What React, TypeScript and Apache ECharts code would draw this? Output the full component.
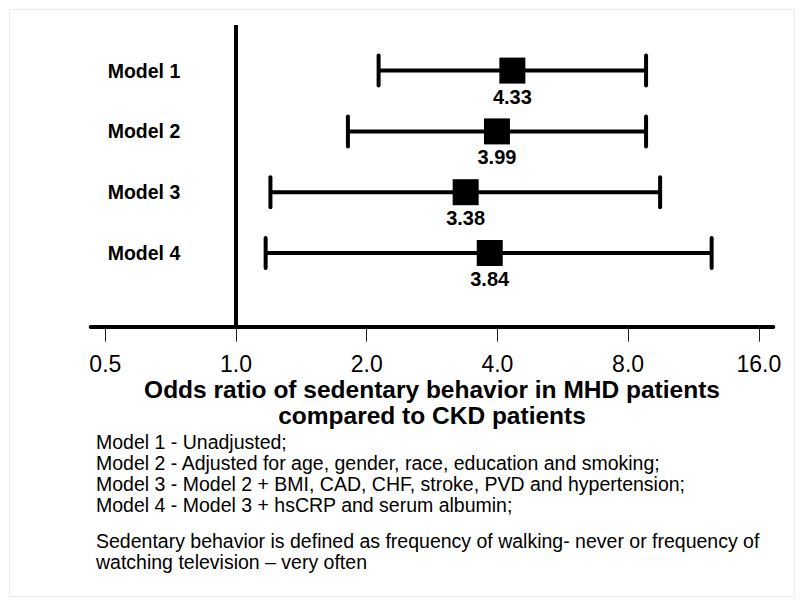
import React, { useEffect, useRef } from "react";
import * as echarts from "echarts";

const models = ["Model 1", "Model 2", "Model 3", "Model 4"];
const oddsRatios = [4.33, 3.99, 3.38, 3.84];
const ciLower = [2.13, 1.81, 1.2, 1.17];
const ciUpper = [8.8, 8.8, 9.48, 12.46];
const xTicks = [0.5, 1, 2, 4, 8, 16];
const referenceValue = 1;
const axisTitle = "Odds ratio of sedentary behavior in MHD patients\ncompared to CKD patients";
const modelNotes = [
  "Model 1 - Unadjusted;",
  "Model 2 - Adjusted for age, gender, race, education and smoking;",
  "Model 3 - Model 2 + BMI, CAD, CHF, stroke, PVD and hypertension;",
  "Model 4 - Model 3 + hsCRP and serum albumin;",
];
const definitionNote = [
  "Sedentary behavior is defined as frequency of walking- never or frequency of",
  "watching television \u2013 very often",
];

const FONT = "'Liberation Sans', Arial, Helvetica, sans-serif";

export default function App() {
  const ref = useRef<HTMLDivElement>(null);

  useEffect(() => {
    if (!ref.current) return;
    const chart = echarts.init(ref.current, null, { renderer: "svg" });
    const rows = models.map((_, i) => i + 1);
    const ciData = rows.map((r, i) => [ciLower[i], ciUpper[i], r]);
    const pointData = rows.map((r, i) => [oddsRatios[i], r]);

    const option: any = {
      animation: false,
      backgroundColor: "#fff",
      textStyle: { fontFamily: FONT },
      grid: { left: 90.7, right: 26.7, top: 25, bottom: 277.3, containLabel: false },
      xAxis: {
        type: "log",
        logBase: 2,
        min: 0.4626,
        max: 17.28,
        splitLine: { show: false },
        axisLine: { show: true, lineStyle: { color: "#000", width: 4 } },
        axisTick: { show: true, customValues: xTicks, length: 15, lineStyle: { color: "#222", width: 1 } },
        axisLabel: {
          show: true,
          customValues: xTicks,
          formatter: (v: number) => Number(v).toFixed(1),
          fontSize: 23,
          color: "#000",
          margin: 26,
          fontFamily: FONT,
        },
        name: axisTitle,
        nameLocation: "middle",
        nameGap: 45,
        nameTextStyle: { fontSize: 24.5, fontWeight: "bold", color: "#000", lineHeight: 26, fontFamily: FONT },
      },
      yAxis: {
        type: "value",
        inverse: true,
        min: 0.25,
        max: 5.212,
        splitLine: { show: false },
        axisLine: { show: false },
        axisTick: { show: false },
        axisLabel: {
          show: true,
          inside: true,
          customValues: rows,
          margin: 17,
          formatter: (v: number) => models[Math.round(v) - 1] ?? "",
          fontSize: 19.5,
          fontWeight: "bold",
          color: "#000",
          fontFamily: FONT,
        },
      },
      series: [
        {
          type: "custom",
          data: ciData,
          encode: { x: [0, 1], y: 2 },
          silent: true,
          z: 2,
          renderItem: (params: any, api: any) => {
            const y = api.value(2);
            const p1 = api.coord([api.value(0), y]);
            const p2 = api.coord([api.value(1), y]);
            const cap = 15;
            const capStyle = { stroke: "#000", lineWidth: 4, lineCap: "round" };
            return {
              type: "group",
              children: [
                { type: "line", shape: { x1: p1[0], y1: p1[1], x2: p2[0], y2: p2[1] }, style: { stroke: "#000", lineWidth: 4 } },
                { type: "line", shape: { x1: p1[0], y1: p1[1] - cap, x2: p1[0], y2: p1[1] + cap }, style: capStyle },
                { type: "line", shape: { x1: p2[0], y1: p2[1] - cap, x2: p2[0], y2: p2[1] + cap }, style: capStyle },
              ],
            };
          },
        },
        {
          type: "scatter",
          data: pointData,
          symbol: "rect",
          symbolSize: 26,
          itemStyle: { color: "#000", opacity: 1 },
          z: 3,
          silent: true,
          label: {
            show: true,
            position: "bottom",
            distance: 3,
            formatter: (p: any) => Number(p.value[0]).toFixed(2),
            fontSize: 20,
            fontWeight: "bold",
            color: "#000",
            opacity: 1,
            fontFamily: FONT,
          },
          markLine: {
            silent: true,
            symbol: "none",
            label: { show: false },
            lineStyle: { color: "#000", width: 4, type: "solid", opacity: 1 },
            data: [{ xAxis: referenceValue }],
          },
        },
      ],
      graphic: [
        {
          type: "rect",
          left: 7,
          top: 7,
          shape: { width: 785, height: 587 },
          style: { fill: "none", stroke: "#e4eded", lineWidth: 1 },
          silent: true,
        },
        {
          type: "text",
          left: 96,
          top: 431,
          style: {
            text: modelNotes.join("\n"),
            fontSize: 19.5,
            lineHeight: 21,
            fill: "#000",
            fontFamily: FONT,
          },
        },
        {
          type: "text",
          left: 96,
          top: 530,
          style: {
            text: definitionNote.join("\n"),
            fontSize: 19.5,
            lineHeight: 21,
            fill: "#000",
            fontFamily: FONT,
          },
        },
      ],
    };

    chart.setOption(option);
    return () => chart.dispose();
  }, []);

  return (
    <div
      ref={ref}
      style={{ position: "absolute", left: 0, top: 0, width: 800, height: 604, background: "#fff" }}
    />
  );
}
